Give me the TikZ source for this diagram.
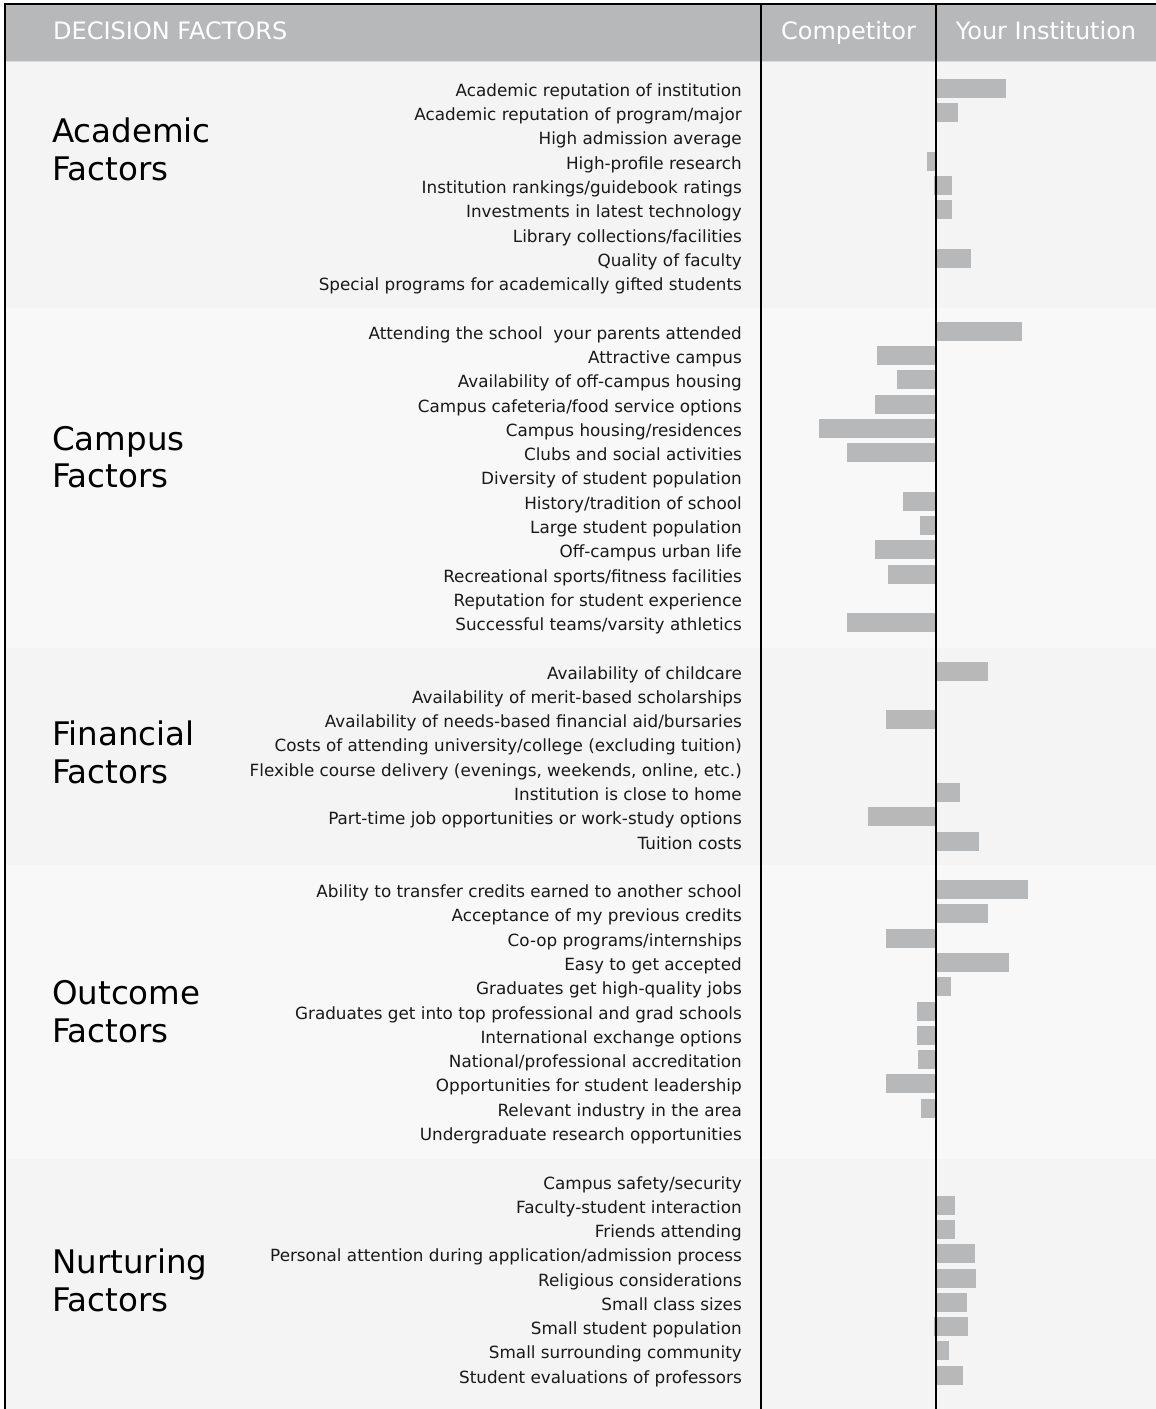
\documentclass[tikz,border=0pt]{standalone}
\usepackage{fontspec}
\setmainfont{DejaVu Sans}
\definecolor{hdrgray}{HTML}{B7B8BA}
\definecolor{bargray}{HTML}{B7B8BA}
\definecolor{bgdark}{HTML}{F3F4F3}
\definecolor{bglight}{HTML}{F8F8F8}
\definecolor{sepgray}{HTML}{DADBDC}
\begin{document}
\begin{tikzpicture}[x=1pt,y=-1pt,
  lbl/.style={anchor=base east,inner sep=0pt,font=\fontsize{16.8}{20}\selectfont,text=black!90},
  sect/.style={anchor=base west,inner sep=0pt,font=\fontsize{32.5}{37.5}\selectfont,text=black,align=left},
  hdr/.style={anchor=base,inner sep=0pt,font=\fontsize{24}{28}\selectfont,text=white},
  bar/.style={fill=bargray},
  rule/.style={line width=2pt,black}]
\useasboundingbox (0,0) rectangle (1156,1409);
% backgrounds
\fill[white] (0,0) rectangle (1156,1409);
\fill[hdrgray] (5,4) rectangle (1156,61);
\fill[bgdark] (5,61) rectangle (1156,308);
\fill[bglight] (5,308) rectangle (1156,648);
\fill[bgdark] (5,648) rectangle (1156,865);
\fill[bglight] (5,865) rectangle (1156,1159);
\fill[bgdark] (5,1159) rectangle (1156,1409);
\draw[sepgray,line width=1pt] (5,61.5) -- (1156,61.5);
% header texts
\node[hdr,anchor=base west] (hdec) at (53,39) {DECISION FACTORS};
\node[hdr] (hcomp) at (848.5,39) {Competitor};
\node[hdr] (hyour) at (1046,39) {Your Institution};
% section titles (anchor = baseline of the last line)
\node[sect] (sacad) at (52,180) {Academic\\Factors};
\node[sect] (scamp) at (52,487.5) {Campus\\Factors};
\node[sect] (sfin) at (52,783) {Financial\\Factors};
\node[sect] (sout) at (52,1042) {Outcome\\Factors};
\node[sect] (snur) at (52,1311) {Nurturing\\Factors};
% bars
\foreach \i/\a/\b in {0/936/1006,1/936/958,3/927/936,4/934/952,5/936/952,7/936/971,
  10/936/1022,11/877/936,12/897/936,13/875/936,14/819/936,15/847/936,17/903/936,
  18/920/936,19/875/936,20/888/936,22/847/936,
  24/936/988,26/886/936,29/936/960,30/868/936,31/936/979,
  33/936/1028,34/936/988,35/886/936,36/936/1009,37/936/951,38/917/936,39/917/936,
  40/918/936,41/886/936,42/921/936,
  46/936/955,47/936/955,48/936/975,49/936/976,50/936/967,51/934/968,52/936/949,53/936/963}{
  \pgfmathsetmacro\yc{88.4+\i*24.28}
  \fill[bar] (\a,\yc-9.5) rectangle (\b,\yc+9.5);
}
% labels
\foreach \i/\t in {
  0/{Academic reputation of institution},
  1/{Academic reputation of program/major},
  2/{High admission average},
  3/{High-profile research},
  4/{Institution rankings/guidebook ratings},
  5/{Investments in latest technology},
  6/{Library collections/facilities},
  7/{Quality of faculty},
  8/{Special programs for academically gifted students},
  10/{Attending the school~ your parents attended},
  11/{Attractive campus},
  12/{Availability of off-campus housing},
  13/{Campus cafeteria/food service options},
  14/{Campus housing/residences},
  15/{Clubs and social activities},
  16/{Diversity of student population},
  17/{History/tradition of school},
  18/{Large student population},
  19/{Off-campus urban life},
  20/{Recreational sports/fitness facilities},
  21/{Reputation for student experience},
  22/{Successful teams/varsity athletics},
  24/{Availability of childcare},
  25/{Availability of merit-based scholarships},
  26/{Availability of needs-based financial aid/bursaries},
  27/{Costs of attending university/college (excluding tuition)},
  28/{Flexible course delivery (evenings, weekends, online, etc.)},
  29/{Institution is close to home},
  30/{Part-time job opportunities or work-study options},
  31/{Tuition costs},
  33/{Ability to transfer credits earned to another school},
  34/{Acceptance of my previous credits},
  35/{Co-op programs/internships},
  36/{Easy to get accepted},
  37/{Graduates get high-quality jobs},
  38/{Graduates get into top professional and grad schools},
  39/{International exchange options},
  40/{National/professional accreditation},
  41/{Opportunities for student leadership},
  42/{Relevant industry in the area},
  43/{Undergraduate research opportunities},
  45/{Campus safety/security},
  46/{Faculty-student interaction},
  47/{Friends attending},
  48/{Personal attention during application/admission process},
  49/{Religious considerations},
  50/{Small class sizes},
  51/{Small student population},
  52/{Small surrounding community},
  53/{Student evaluations of professors}}{
  \pgfmathsetmacro\yb{88.4+\i*24.28+8}
  \node[lbl] (r\i) at (742,\yb) {\t};
}
% frame and column rules
\coordinate (tl) at (5,4);
\coordinate (tr) at (1156,4);
\coordinate (bl) at (5,1409);
\coordinate (c1t) at (761,4);
\coordinate (c1b) at (761,1409);
\coordinate (c2t) at (936,4);
\coordinate (c2b) at (936,1409);
\draw[black,line width=1.6pt] (bl) -- (tl) -- (tr);
\draw[rule] (c1t) -- (c1b);
\draw[rule] (c2t) -- (c2b);
\end{tikzpicture}
\end{document}
